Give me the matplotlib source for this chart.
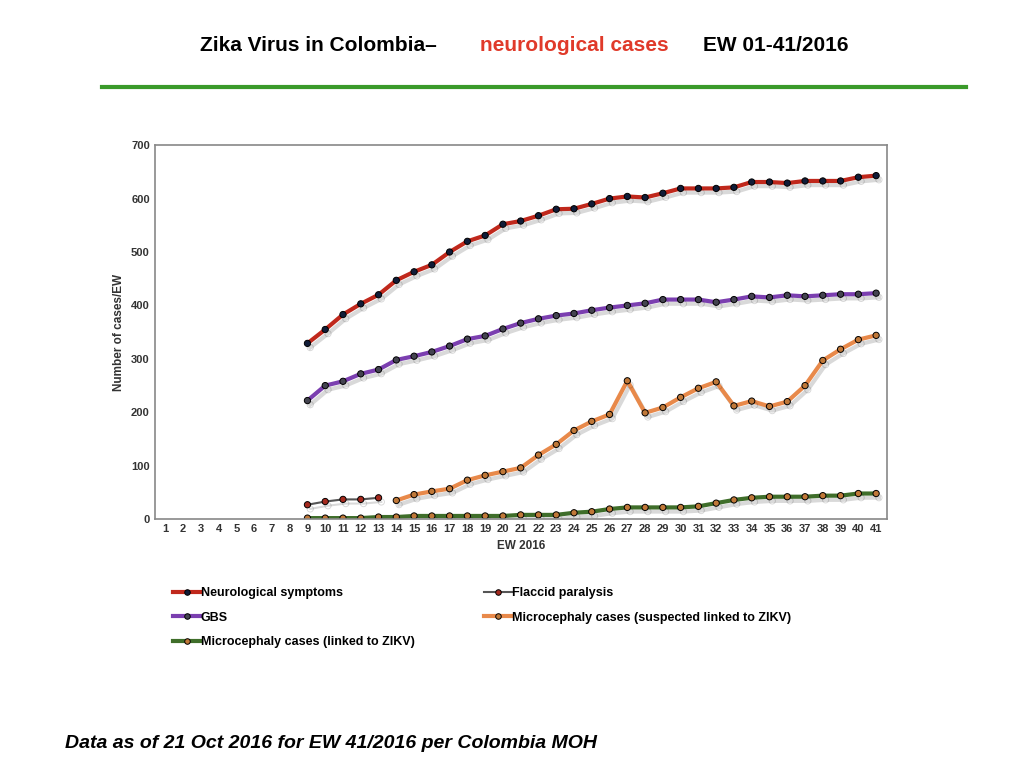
import numpy as np
import matplotlib.pyplot as plt
import matplotlib.patheffects as pe
from matplotlib.lines import Line2D

plt.rcParams['font.family'] = ['Liberation Sans', 'DejaVu Sans']

weeks = list(range(1, 42))

ew_neuro = list(range(9, 42))
neuro = [329, 355, 383, 403, 420, 447, 463, 476, 500, 520, 531, 552, 558, 568, 580, 581,
         590, 600, 604, 602, 610, 619, 619, 619, 621, 631, 631, 629, 633, 633, 633, 640, 643]
gbs = [222, 250, 258, 272, 280, 298, 305, 313, 324, 337, 343, 356, 367, 375, 381, 385,
       391, 396, 400, 404, 411, 411, 411, 406, 411, 417, 415, 419, 417, 419, 421, 421, 423]
ew_flaccid = [9, 10, 11, 12, 13]
flaccid = [27, 33, 37, 37, 40]
ew_susp = list(range(14, 42))
micro_susp = [35, 46, 52, 57, 73, 82, 89, 96, 120, 140, 166, 183, 196, 259, 199, 209,
              228, 245, 257, 212, 221, 211, 220, 250, 297, 318, 336, 344]
micro_linked = [2, 2, 2, 2, 4, 4, 6, 6, 6, 6, 6, 6, 8, 8, 8, 12, 14, 19, 22, 22, 22, 22,
                24, 30, 36, 40, 42, 42, 42, 44, 44, 48, 48]

fig = plt.figure(figsize=(10.24, 7.68), dpi=100)
ax = fig.add_axes([0.151, 0.324, 0.715, 0.487])

shadow = [pe.SimpleLineShadow(offset=(2, -3), alpha=0.15), pe.Normal()]
series = {
    'neuro': (ew_neuro, neuro, '#c0281c', '#101c38', 3, 'Neurological symptoms'),
    'flaccid': (ew_flaccid, flaccid, '#555555', '#a52a1e', 1.5, 'Flaccid paralysis'),
    'gbs': (ew_neuro, gbs, '#7b3fb0', '#444450', 3, 'GBS'),
    'susp': (ew_susp, micro_susp, '#e8894a', '#c07838', 3, 'Microcephaly cases (suspected linked to ZIKV)'),
    'linked': (ew_neuro, micro_linked, '#3f6e2a', '#c07838', 3, 'Microcephaly cases (linked to ZIKV)'),
}
handles = {}
for key, (x, y, lc, mc, lw, name) in series.items():
    h, = ax.plot(x, y, color=lc, lw=lw, marker='o', ms=4.5, mfc=mc, mec='black', mew=0.7,
                 label=name)
    h.set_path_effects(shadow)
    handles[key] = h

ax.set_xlim(0.4, 41.6)
ax.set_ylim(0, 700)
ax.set_xticks(weeks)
ax.set_yticks(range(0, 701, 100))
ax.tick_params(length=0, labelsize=8, colors='#333333')
for lbl in ax.get_xticklabels() + ax.get_yticklabels():
    lbl.set_fontweight('bold')
for s in ax.spines.values():
    s.set_color('#888888')
    s.set_linewidth(1.2)
ax.set_xlabel('EW 2016', fontsize=8.5, fontweight='bold', color='#333333')
ax.set_ylabel('Number of cases/EW', fontsize=8.5, fontweight='bold', color='#333333')

# legend filled column-wise, so order gives rows: neuro/flaccid, gbs/susp, linked
order = ['neuro', 'gbs', 'linked', 'flaccid', 'susp']
leg_handles = [Line2D([], [], color=series[k][2], lw=series[k][4], marker='o', ms=4,
                      mfc=series[k][3], mec='black', mew=0.7) for k in order]
fig.legend(leg_handles, [series[k][5] for k in order], loc='upper left',
           bbox_to_anchor=(0.158, 0.25), ncol=2, frameon=False,
           handlelength=2.2, handletextpad=0.0, columnspacing=5.6, labelspacing=1.0,
           prop={'weight': 'bold', 'size': 9})

fig.text(0.195, 0.941, 'Zika Virus in Colombia\u2013', fontsize=15, fontweight='bold',
         ha='left', va='center')
fig.text(0.469, 0.941, 'neurological cases', fontsize=15, fontweight='bold',
         color='#e03a2a', ha='left', va='center')
fig.text(0.687, 0.941, 'EW 01-41/2016', fontsize=15, fontweight='bold',
         ha='left', va='center')
fig.add_artist(Line2D([0.1, 0.943], [0.887, 0.887], color='#3a9a2a', lw=3))
fig.text(0.063, 0.032, 'Data as of 21 Oct 2016 for EW 41/2016 per Colombia MOH',
         fontsize=14, fontweight='bold', style='italic', ha='left', va='center')

fig.savefig('out.png', dpi=100)
